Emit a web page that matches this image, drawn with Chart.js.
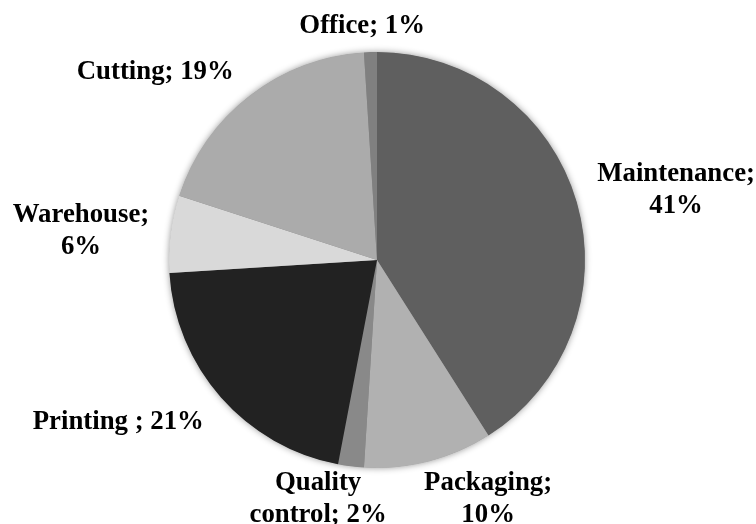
<!DOCTYPE html>
<html>
<head>
<meta charset="utf-8">
<script src="https://cdn.jsdelivr.net/npm/chart.js@4/dist/chart.umd.min.js"></script>
<style>
  html, body { margin: 0; padding: 0; background: #fff; }
  #wrap { width: 756px; height: 524px; }
</style>
</head>
<body>
<div id="wrap"><canvas id="myChart" width="756" height="524"></canvas></div>
<script>
// slices, clockwise from 12 o'clock
const departments = ['Maintenance', 'Packaging', 'Quality control', 'Printing ', 'Warehouse', 'Cutting', 'Office'];
const shares = [41, 10, 2, 21, 6, 19, 1];
const sliceColors = ['#5f5f5f', '#b1b1b1', '#898989', '#222222', '#d9d9d9', '#ababab', '#808080'];

// label text split into lines, plus a small nudge from the computed outside position
const labelLines = [
  ['Maintenance;', '41%'],
  ['Packaging;', '10%'],
  ['Quality', 'control; 2%'],
  ['Printing ; 21%'],
  ['Warehouse;', '6%'],
  ['Cutting; 19%'],
  ['Office; 1%']
];
const labelNudge = [[14, 0], [41, -3], [-23, -9], [-31, 7], [-12, 2], [-40, -3], [-6, 0]];

const ctx = document.getElementById('myChart');

// soft shadow under the whole pie
const pieShadow = {
  id: 'pieShadow',
  beforeDatasetsDraw(chart) {
    const arc = chart.getDatasetMeta(0).data[0];
    if (!arc) return;
    const c = chart.ctx;
    c.save();
    c.shadowColor = 'rgba(0,0,0,0.45)';
    c.shadowBlur = 7;
    c.fillStyle = '#888';
    c.beginPath();
    c.arc(arc.x, arc.y, arc.outerRadius - 0.5, 0, Math.PI * 2);
    c.fill();
    c.restore();
  }
};

// outside labels: placed past the rim along each slice's middle angle
const outsideLabels = {
  id: 'outsideLabels',
  afterDatasetsDraw(chart) {
    const c = chart.ctx;
    const lineH = 32;
    c.save();
    c.font = 'bold 26.8px "Liberation Serif", "Times New Roman", serif';
    c.fillStyle = '#000';
    c.textAlign = 'center';
    c.textBaseline = 'middle';
    chart.getDatasetMeta(0).data.forEach((arc, i) => {
      const mid = (arc.startAngle + arc.endAngle) / 2;
      const dx = Math.cos(mid), dy = Math.sin(mid);
      const lines = labelLines[i];
      const w = Math.max(...lines.map(t => c.measureText(t).width));
      const h = lines.length * lineH;
      const r = arc.outerRadius + 10;
      const cx = arc.x + dx * r + dx * w / 2 + labelNudge[i][0];
      const cy = arc.y + dy * r + dy * h / 2 + labelNudge[i][1];
      lines.forEach((t, k) => {
        c.fillText(t, cx, cy - h / 2 + lineH * (k + 0.5));
      });
    });
    c.restore();
  }
};

new Chart(ctx, {
  type: 'pie',
  data: {
    labels: departments,
    datasets: [{
      data: shares,
      backgroundColor: sliceColors,
      borderWidth: 0
    }]
  },
  options: {
    responsive: false,
    animation: false,
    layout: { padding: { top: 52, bottom: 56, left: 169, right: 171 } },
    plugins: {
      legend: { display: false },
      tooltip: { enabled: false }
    }
  },
  plugins: [pieShadow, outsideLabels]
});
</script>
</body>
</html>
